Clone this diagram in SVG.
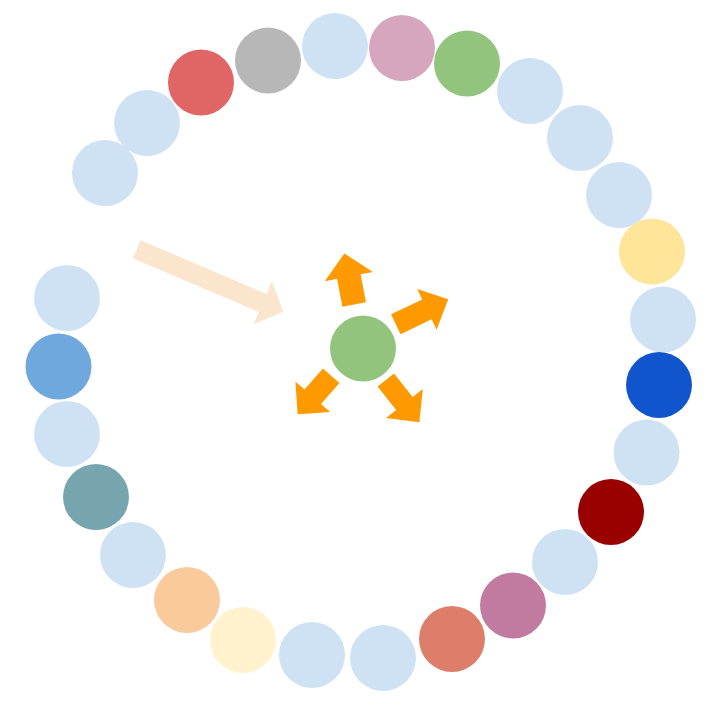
<svg xmlns="http://www.w3.org/2000/svg" width="721" height="708" viewBox="0 0 721 708">
<style>
.n{stroke:none}
.lb{fill:#CFE2F3}
.ar{fill:#FF9900;stroke:none}
.big{fill:#FCE5CD;stroke:none}
</style>
<rect width="721" height="708" fill="#FFFFFF"/>
<g id="ring">
<g id="n1"><circle class="n lb" cx="105" cy="173" r="33"/></g>
<g id="n2"><circle class="n lb" cx="147" cy="123" r="33"/></g>
<g id="n3"><circle class="n" cx="201" cy="82.5" r="33" fill="#E06666"/></g>
<g id="n4"><circle class="n" cx="268" cy="60.5" r="33" fill="#B7B7B7"/></g>
<g id="n5"><circle class="n lb" cx="335" cy="46" r="33"/></g>
<g id="n6"><circle class="n" cx="402" cy="48" r="33" fill="#D5A6BD"/></g>
<g id="n7"><circle class="n" cx="467" cy="63.5" r="33" fill="#93C47D"/></g>
<g id="n8"><circle class="n lb" cx="530" cy="91" r="33"/></g>
<g id="n9"><circle class="n lb" cx="580" cy="138" r="33"/></g>
<g id="n10"><circle class="n lb" cx="619" cy="195" r="33"/></g>
<g id="n11"><circle class="n" cx="652" cy="251.5" r="33" fill="#FFE599"/></g>
<g id="n12"><circle class="n lb" cx="663" cy="319.5" r="33"/></g>
<g id="n13"><circle class="n" cx="659" cy="385" r="33" fill="#1155CC"/></g>
<g id="n14"><circle class="n lb" cx="646.5" cy="452.5" r="33"/></g>
<g id="n15"><circle class="n" cx="611" cy="512" r="33" fill="#990000"/></g>
<g id="n16"><circle class="n lb" cx="565" cy="562" r="33"/></g>
<g id="n17"><circle class="n" cx="513" cy="605.5" r="33" fill="#C27BA0"/></g>
<g id="n18"><circle class="n" cx="452" cy="639" r="33" fill="#DD7E6B"/></g>
<g id="n19"><circle class="n lb" cx="383" cy="658" r="33"/></g>
<g id="n20"><circle class="n lb" cx="312" cy="655" r="33"/></g>
<g id="n21"><circle class="n" cx="243" cy="640" r="33" fill="#FFF2CC"/></g>
<g id="n22"><circle class="n" cx="187" cy="600" r="33" fill="#F9CB9C"/></g>
<g id="n23"><circle class="n lb" cx="133" cy="555" r="33"/></g>
<g id="n24"><circle class="n" cx="96" cy="497" r="33" fill="#76A5AF"/></g>
<g id="n25"><circle class="n lb" cx="67" cy="434" r="33"/></g>
<g id="n26"><circle class="n" cx="58.5" cy="366.5" r="33" fill="#6FA8DC"/></g>
<g id="n27"><circle class="n lb" cx="67" cy="298" r="33"/></g>
</g>
<g id="center"><circle class="n" cx="363" cy="348.5" r="33" fill="#93C47D"/></g>
<g id="connectors">
<polygon class="big" transform="translate(136.7,249.2) rotate(23.1)" points="0,-9.75 137,-9.75 137,-23.5 159.4,0 137,23.5 137,9.75 0,9.75"/>
<polygon class="ar" transform="translate(354.2,304.5) rotate(-100.9)" points="0,-12 28.5,-12 28.5,-24.5 52,0 28.5,24.5 28.5,12 0,12"/>
<polygon class="ar" transform="translate(395.8,324.2) rotate(-25.4)" points="0,-11 34.5,-11 34.5,-22.5 58,0 34.5,22.5 34.5,11 0,11"/>
<polygon class="ar" transform="translate(331.2,375.8) rotate(131.2)" points="0,-11 28,-11 28,-23 51,0 28,23 28,11 0,11"/>
<polygon class="ar" transform="translate(385.8,380) rotate(51.6)" points="0,-10.5 30,-10.5 30,-23.5 54,0 30,23.5 30,10.5 0,10.5"/>
</g>
</svg>
